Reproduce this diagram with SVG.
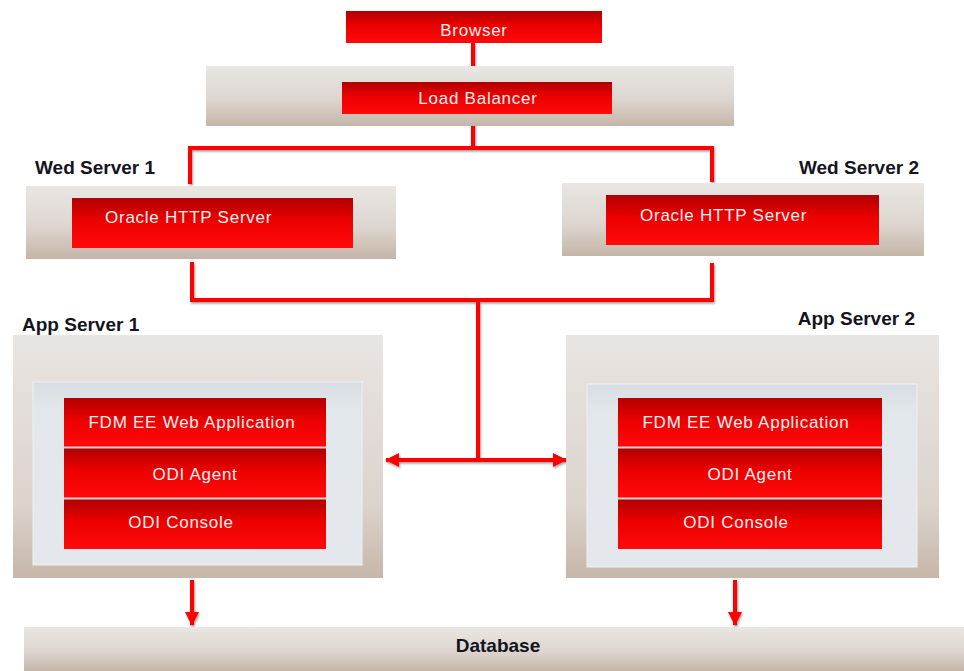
<svg xmlns="http://www.w3.org/2000/svg" width="964" height="671" viewBox="0 0 964 671">
  <defs>
    <linearGradient id="redG" x1="0" y1="0" x2="0" y2="1">
      <stop offset="0" stop-color="#b00000"/>
      <stop offset="0.45" stop-color="#ec0000"/>
      <stop offset="1" stop-color="#ff0a0a"/>
    </linearGradient>
    <linearGradient id="grayG" x1="0" y1="0" x2="0" y2="1">
      <stop offset="0" stop-color="#e9e6e3"/>
      <stop offset="0.55" stop-color="#ddd6d0"/>
      <stop offset="1" stop-color="#c5b5a8"/>
    </linearGradient>
    <linearGradient id="appG" x1="0" y1="0" x2="0" y2="1">
      <stop offset="0" stop-color="#e9e5e2"/>
      <stop offset="0.7" stop-color="#dcd3cc"/>
      <stop offset="1" stop-color="#c7b6a9"/>
    </linearGradient>
    <linearGradient id="panelG" x1="0" y1="0" x2="0" y2="1">
      <stop offset="0" stop-color="#d7dde2"/>
      <stop offset="0.15" stop-color="#e2e7eb"/>
      <stop offset="1" stop-color="#e4e8ec"/>
    </linearGradient>
    <filter id="shadow" x="-5%" y="-5%" width="110%" height="110%">
      <feDropShadow dx="1" dy="1.5" stdDeviation="0.8" flood-color="#444" flood-opacity="0.55"/>
    </filter>
    <marker id="ah" viewBox="0 0 14 14" refX="13" refY="7" markerWidth="14" markerHeight="14" markerUnits="userSpaceOnUse" orient="auto-start-reverse">
      <path d="M0,0 L14,7 L0,14 Z" fill="#ff0000"/>
    </marker>
  </defs>
  <style>
    .red { fill: url(#redG); }
    .band { fill: url(#grayG); }
    .app { fill: url(#appG); }
    .panel { fill: url(#panelG); stroke: #eef1f3; stroke-width: 1; }
    .wt { font-family: "Liberation Sans", Arial, sans-serif; font-size: 17px; fill: #fff0f0; letter-spacing: 0.75px; }
    .lbl { font-family: "Liberation Sans", Arial, sans-serif; font-size: 19px; font-weight: bold; fill: #141420; }
    .con { stroke: #ff0000; stroke-width: 4; fill: none; }
    .gap { stroke: #d9d2d2; stroke-width: 2; }
  </style>

  <!-- Connectors -->
  <g id="connectors" filter="url(#shadow)">
    <line class="con" x1="473" y1="43" x2="473" y2="68"/>
    <polyline class="con" points="473,118 473,148"/>
    <polyline class="con" points="190,184 190,148 712,148 712,182"/>
    <polyline class="con" points="192,262 192,300 712,300 712,263"/>
    <line class="con" x1="478" y1="300" x2="478" y2="460"/>
    <line class="con" x1="386" y1="460" x2="566" y2="460" marker-start="url(#ah)" marker-end="url(#ah)"/>
    <line class="con" x1="192" y1="580" x2="192" y2="625" marker-end="url(#ah)"/>
    <line class="con" x1="735" y1="580" x2="735" y2="625" marker-end="url(#ah)"/>
  </g>

  <!-- Browser -->
  <g id="browser">
    <rect class="red" x="346" y="11" width="256" height="32"/>
    <text class="wt" x="474" y="36" text-anchor="middle">Browser</text>
  </g>

  <!-- Load Balancer -->
  <g id="load-balancer">
    <rect class="band" x="206" y="66" width="528" height="60"/>
    <rect class="red" x="342" y="82" width="270" height="32"/>
    <text class="wt" x="478" y="104" text-anchor="middle">Load Balancer</text>
  </g>

  <!-- Web Server 1 -->
  <g id="web-server-1">
    <text class="lbl" x="35" y="174">Wed Server 1</text>
    <rect class="band" x="26" y="186" width="370" height="73"/>
    <rect class="red" x="72" y="198" width="281" height="50"/>
    <text class="wt" x="105" y="223">Oracle HTTP Server</text>
  </g>

  <!-- Web Server 2 -->
  <g id="web-server-2">
    <text class="lbl" x="919" y="174" text-anchor="end">Wed Server 2</text>
    <rect class="band" x="562" y="183" width="362" height="73"/>
    <rect class="red" x="606" y="195" width="273" height="50"/>
    <text class="wt" x="640" y="221">Oracle HTTP Server</text>
  </g>

  <!-- App Server 1 -->
  <g id="app-server-1">
    <text class="lbl" x="22" y="331">App Server 1</text>
    <rect class="app" x="13" y="335" width="370" height="243"/>
    <rect class="panel" x="33" y="382" width="329" height="183"/>
    <rect class="red" x="64" y="398" width="262" height="49"/>
    <rect class="red" x="64" y="448" width="262" height="50"/>
    <rect class="red" x="64" y="499" width="262" height="50"/>
    <line class="gap" x1="64" y1="447.5" x2="326" y2="447.5"/>
    <line class="gap" x1="64" y1="498.5" x2="326" y2="498.5"/>
    <text class="wt" x="192" y="428" text-anchor="middle">FDM EE Web Application</text>
    <text class="wt" x="195" y="480" text-anchor="middle">ODI Agent</text>
    <text class="wt" x="181" y="528" text-anchor="middle">ODI Console</text>
  </g>

  <!-- App Server 2 -->
  <g id="app-server-2">
    <text class="lbl" x="915" y="325" text-anchor="end">App Server 2</text>
    <rect class="app" x="566" y="335" width="373" height="243"/>
    <rect class="panel" x="587" y="384" width="330" height="183"/>
    <rect class="red" x="618" y="398" width="264" height="49"/>
    <rect class="red" x="618" y="448" width="264" height="50"/>
    <rect class="red" x="618" y="499" width="264" height="50"/>
    <line class="gap" x1="618" y1="447.5" x2="882" y2="447.5"/>
    <line class="gap" x1="618" y1="498.5" x2="882" y2="498.5"/>
    <text class="wt" x="746" y="428" text-anchor="middle">FDM EE Web Application</text>
    <text class="wt" x="750" y="480" text-anchor="middle">ODI Agent</text>
    <text class="wt" x="736" y="528" text-anchor="middle">ODI Console</text>
  </g>

  <!-- Database -->
  <g id="database">
    <rect class="band" x="24" y="627" width="940" height="44"/>
    <text class="lbl" x="498" y="652" text-anchor="middle">Database</text>
  </g>
</svg>
